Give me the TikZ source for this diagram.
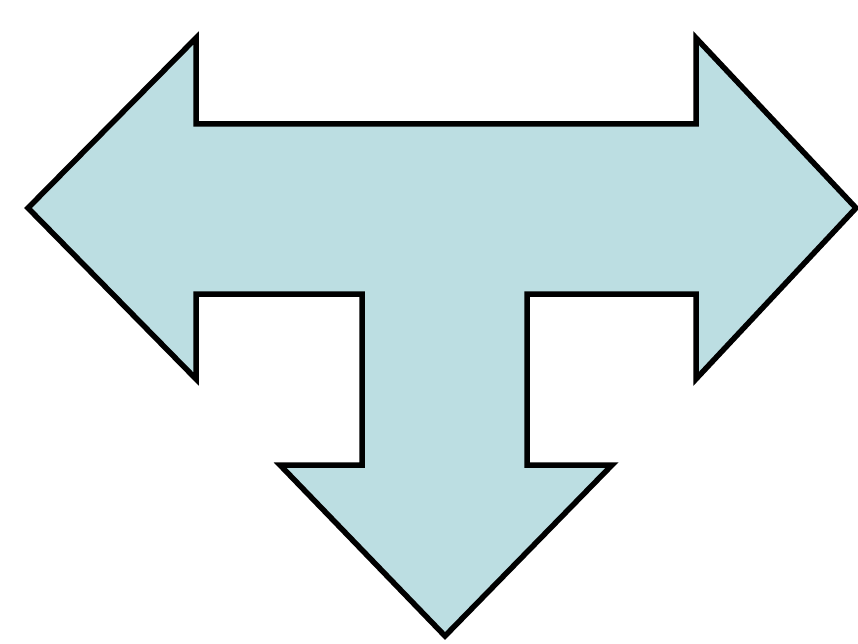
\documentclass[tikz,border=0pt]{standalone}
\definecolor{arrowfill}{RGB}{188,222,226}
\tikzset{tarrow/.style={draw=black, fill=arrowfill, line width=5.5pt, line join=miter}}
\begin{document}
\begin{tikzpicture}[x=1pt,y=-1pt]
\useasboundingbox (0,0) rectangle (858,644);
\draw[tarrow] (28,208) -- (196,38) -- (196,124) -- (696,124) -- (696,38) -- (856,208)
  -- (696,379) -- (696,294) -- (527,294) -- (527,465) -- (612,465) -- (445,636)
  -- (280,465) -- (362,465) -- (362,294) -- (196,294) -- (196,379) -- cycle;
\end{tikzpicture}
\end{document}
